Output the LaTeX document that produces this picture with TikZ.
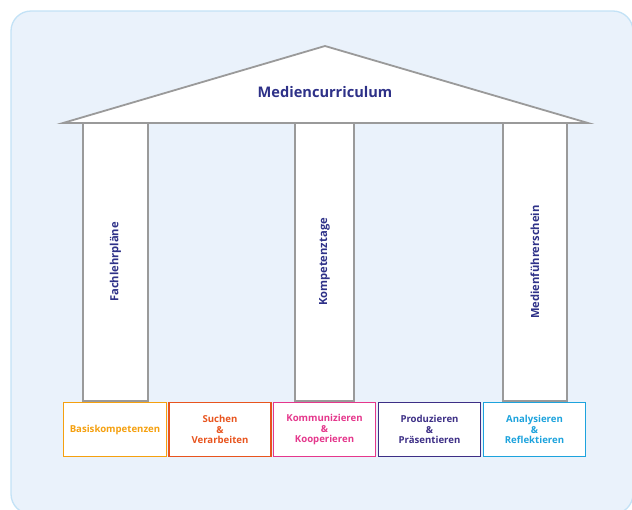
\documentclass[tikz,border=0pt]{standalone}
\usepackage{fontspec}
\setmainfont{Open Sans}
\definecolor{bgblue}{HTML}{EAF2FB}
\definecolor{frameblue}{HTML}{C3E2F6}
\definecolor{linegray}{HTML}{9A9A9A}
\definecolor{navy}{HTML}{2E3188}
\definecolor{corange}{HTML}{F5A00F}
\definecolor{cred}{HTML}{E8541E}
\definecolor{cpink}{HTML}{E5378C}
\definecolor{cpurple}{HTML}{3D2F86}
\definecolor{ccyan}{HTML}{1DA3DD}
\begin{document}
\begin{tikzpicture}[x=1pt,y=-1pt,
  pillar/.style={draw=linegray,fill=white,line width=1.8pt},
  base/.style={draw=#1,fill=white,line width=1.8pt,text=#1,font=\fontsize{9.6}{10.6}\selectfont\bfseries,align=center,inner sep=0pt},
  ptext/.style={text=navy,font=\fontsize{11.2}{12}\selectfont\bfseries,rotate=90}]
\useasboundingbox (0,0) rectangle (632,509);
\draw[fill=bgblue,draw=frameblue,line width=1.3pt,rounded corners=20pt] (11,11) rectangle (633,514);
% roof
\draw[pillar,line join=miter] (63,123) coordinate (rl) -- (325,46) coordinate (apex) -- (588,123) coordinate (rr) -- cycle;
\node[text=navy,font=\fontsize{14.6}{16}\selectfont\bfseries] (roof) at (325,92) {Mediencurriculum};
% pillars
\draw[pillar] (83,123) rectangle (148,401);
\draw[pillar] (295,123) rectangle (354,401);
\draw[pillar] (503,123) rectangle (567,401);
\node[ptext] (p1) at (115.5,262) {Fachlehrpläne};
\node[ptext] (p2) at (324.5,262) {Kompetenztage};
\node[ptext] (p3) at (535,262) {Medienführerschein};
% base boxes
\node[base=corange,minimum width=103pt,minimum height=54pt] (b1) at (115,429.5) {Basiskompetenzen};
\node[base=cred,minimum width=102pt,minimum height=54pt] (b2) at (220,429.5) {Suchen\\\&\\Verarbeiten};
\node[base=cpink,minimum width=102pt,minimum height=54pt] (b3) at (324.5,429.5) {Kommunizieren\\\&\\Kooperieren};
\node[base=cpurple,minimum width=102pt,minimum height=54pt] (b4) at (429.5,429.5) {Produzieren\\\&\\Präsentieren};
\node[base=ccyan,minimum width=102pt,minimum height=54pt] (b5) at (534.5,429.5) {Analysieren\\\&\\Reflektieren};
\end{tikzpicture}
\end{document}
